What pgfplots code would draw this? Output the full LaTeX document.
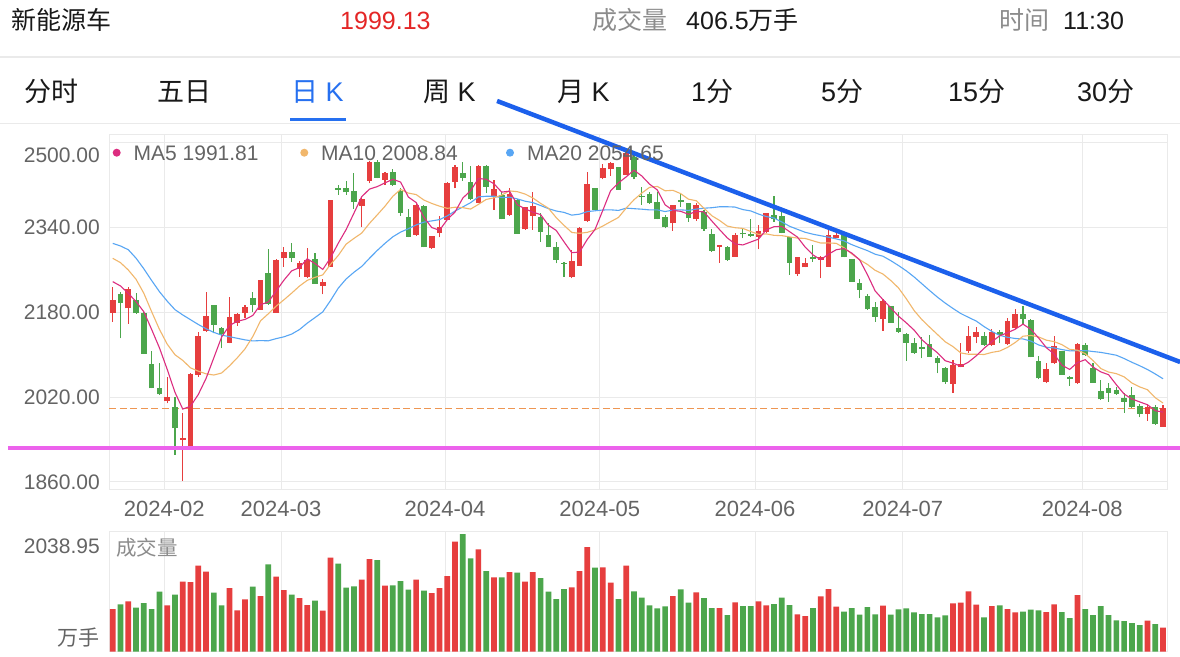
\documentclass[border=0pt]{standalone}
\usepackage{pgfplots}
\usepackage{pgfplotstable}
\usepackage{fontspec}
\pgfplotsset{compat=1.18}
\setmainfont{Liberation Sans}
\newfontfamily\cjk{Noto Sans CJK SC}
\definecolor{redc}{RGB}{230,62,62}
\definecolor{greenc}{RGB}{76,166,76}
\definecolor{ma5c}{RGB}{220,45,128}
\definecolor{ma10c}{RGB}{241,183,108}
\definecolor{ma20c}{RGB}{88,166,244}
\definecolor{trendc}{RGB}{28,96,236}
\definecolor{magc}{RGB}{236,98,236}
\definecolor{dashc}{RGB}{238,150,82}
\definecolor{gridc}{RGB}{234,234,234}
\definecolor{labc}{RGB}{100,100,100}
\definecolor{tabblue}{RGB}{38,112,240}
\definecolor{hdrred}{RGB}{228,38,38}
\definecolor{hdrgray}{RGB}{140,140,140}
\definecolor{hdrblack}{RGB}{25,25,25}

% i open high low close volume  (red: close > open)
\pgfplotstableread{
i O H L C V
0 2179.3 2228.4 2162.4 2203.2 720.6
2 2187.5 2228.4 2158.0 2224.0 850.1
7 2013.4 2058.7 2008.4 2021.0 782.6
9 1939.9 1990.8 1862.5 1943.6 1182.3
10 1926.7 2064.9 1924.0 2063.0 1176.7
11 2061.8 2142.3 2058.7 2136.0 1452.5
12 2144.8 2219.0 2143.5 2173.1 1351.2
15 2122.8 2209.5 2121.5 2170.5 1075.3
16 2159.2 2179.3 2154.8 2176.2 698.1
17 2179.3 2193.8 2168.7 2190.6 883.9
19 2184.4 2241.0 2184.4 2241.0 940.2
21 2179.3 2280.0 2179.3 2278.7 1266.8
22 2281.8 2302.5 2266.1 2293.1 1041.6
24 2261.1 2276.8 2247.2 2272.4 906.4
25 2247.2 2301.9 2244.1 2278.7 788.2
27 2230.3 2242.2 2213.9 2237.8 692.5
28 2266.1 2391.8 2266.1 2391.8 1587.7
32 2381.1 2398.1 2341.5 2393.1 1216.1
33 2428.3 2465.3 2423.2 2464.1 1565.1
35 2429.5 2445.2 2420.1 2442.1 1114.7
39 2325.8 2384.3 2323.9 2382.4 1216.1
41 2300.6 2323.9 2299.4 2323.9 990.9
42 2328.9 2361.6 2321.4 2341.5 1075.3
43 2354.1 2426.4 2354.1 2423.2 1278.0
44 2426.4 2457.8 2413.8 2454.7 1857.9
47 2386.8 2457.8 2385.5 2455.9 1728.4
49 2399.3 2429.5 2373.0 2411.9 1255.5
51 2363.5 2413.8 2361.6 2402.5 1345.6
53 2336.5 2379.2 2335.2 2378.0 1182.3
54 2361.6 2407.5 2335.2 2380.5 1345.6
59 2247.2 2297.5 2244.1 2277.4 1086.6
60 2267.3 2340.3 2267.3 2338.4 1362.5
61 2352.8 2445.2 2350.9 2422.0 1767.8
63 2432.7 2459.7 2430.8 2451.5 1424.4
64 2449.6 2464.1 2437.1 2462.2 1165.4
66 2438.9 2489.2 2438.9 2479.8 1452.5
72 2347.8 2382.4 2333.3 2382.4 940.2
75 2355.3 2385.5 2352.8 2382.4 1002.1
78 2303.8 2307.0 2273.6 2307.0 737.5
80 2284.9 2328.9 2284.9 2325.8 833.2
83 2322.7 2344.7 2298.8 2334.0 850.1
84 2332.1 2367.9 2328.9 2366.7 782.6
88 2252.3 2284.9 2248.5 2283.7 630.6
89 2264.8 2281.8 2264.8 2272.4 602.4
91 2278.7 2286.2 2244.1 2284.9 934.6
92 2266.1 2336.5 2266.1 2325.8 1058.4
93 2320.8 2330.2 2319.5 2325.8 760.1
99 2166.8 2204.5 2145.4 2202.0 776.9
108 2044.8 2090.1 2028.5 2080.7 816.4
109 2076.3 2122.8 2076.3 2082.5 827.6
110 2107.7 2154.2 2103.9 2135.3 1019.0
111 2134.1 2152.9 2121.5 2143.5 793.8
113 2118.4 2147.9 2116.5 2143.5 771.3
115 2120.3 2168.7 2118.4 2164.3 720.6
116 2149.8 2185.6 2147.9 2176.8 664.3
120 2049.2 2085.1 2046.1 2072.5 670.0
121 2083.8 2135.3 2082.5 2116.5 799.5
124 2046.1 2121.5 2044.8 2120.3 957.1
133 1988.3 2005.2 1975.7 2002.1 523.6
135 1964.4 2005.2 1964.4 1999.13 406.5
}\redtab

% green: close < open
\pgfplotstableread{
i O H L C V
1 2213.9 2217.7 2131.0 2198.2 799.5
3 2203.2 2215.8 2176.8 2178.1 743.2
4 2178.1 2181.2 2101.4 2101.4 822.0
5 2081.9 2107.0 2036.6 2036.6 720.6
6 2037.9 2083.8 2024.1 2025.3 1013.4
8 2002.1 2021.0 1910.9 1961.2 962.7
13 2193.8 2193.8 2140.4 2156.1 996.5
14 2149.8 2152.9 2112.1 2139.1 782.6
18 2206.4 2219.0 2181.2 2193.8 1097.9
20 2253.5 2298.8 2193.8 2195.7 1475.1
23 2293.1 2311.3 2275.5 2281.8 962.7
26 2279.9 2291.2 2233.4 2233.4 861.4
29 2413.8 2420.1 2401.2 2410.7 1486.3
30 2413.8 2428.3 2401.2 2406.3 1081.0
31 2409.4 2442.1 2374.8 2387.4 1103.5
34 2464.1 2467.2 2432.6 2433.9 1548.3
36 2445.2 2449.6 2418.2 2420.1 1120.4
37 2408.8 2413.8 2361.6 2367.9 1193.6
38 2359.1 2374.2 2321.4 2322.7 1047.2
40 2381.1 2382.4 2302.5 2302.5 1030.3
45 2442.1 2464.1 2428.3 2433.9 1987.4
46 2426.4 2455.9 2391.8 2393.1 1576.4
48 2455.9 2457.8 2404.4 2417.0 1362.5
50 2401.2 2407.5 2355.3 2355.3 1255.5
52 2391.8 2393.1 2327.7 2327.7 1334.3
55 2359.1 2366.7 2313.2 2332.1 1244.2
56 2325.8 2347.8 2302.5 2302.5 1013.4
57 2302.5 2313.2 2272.4 2278.7 889.5
58 2273.6 2275.5 2247.2 2271.1 1058.4
62 2413.8 2413.8 2373.0 2373.0 1418.8
65 2454.7 2454.7 2410.7 2410.7 889.5
67 2473.5 2476.7 2430.8 2435.8 1019.0
68 2399.3 2415.7 2382.4 2396.8 912.1
69 2402.5 2407.5 2384.3 2385.5 782.6
70 2388.7 2407.5 2355.3 2355.3 731.9
71 2360.4 2363.5 2338.4 2340.3 765.7
73 2391.8 2405.6 2379.2 2388.7 1052.8
74 2385.5 2386.8 2350.9 2357.2 827.6
76 2369.8 2373.0 2334.0 2336.5 906.4
77 2327.7 2336.5 2294.4 2296.2 737.5
79 2302.5 2305.1 2277.4 2278.7 619.3
81 2330.2 2336.5 2319.5 2327.1 771.3
82 2327.7 2355.3 2322.7 2323.9 771.3
85 2363.5 2399.3 2350.9 2355.3 805.1
86 2361.6 2369.8 2328.9 2330.2 912.1
87 2321.4 2321.4 2250.4 2273.6 788.2
90 2283.7 2307.0 2275.5 2281.2 737.5
94 2327.7 2328.9 2283.7 2283.7 675.6
95 2279.9 2279.9 2237.8 2237.8 737.5
96 2235.9 2242.2 2206.4 2222.1 624.9
97 2210.8 2214.5 2184.4 2185.6 754.4
98 2189.4 2200.1 2162.4 2171.8 630.6
100 2191.9 2191.9 2160.5 2160.5 624.9
101 2149.8 2181.2 2141.6 2143.5 715.0
102 2139.1 2141.6 2088.8 2122.8 731.9
103 2122.8 2131.0 2101.4 2103.9 664.3
104 2114.0 2134.1 2093.2 2111.5 636.2
105 2120.3 2137.2 2096.4 2096.4 636.2
106 2093.2 2097.6 2064.9 2083.8 579.9
107 2075.6 2076.3 2044.8 2048.0 613.7
112 2135.3 2143.5 2116.5 2118.4 579.9
114 2143.5 2146.7 2121.5 2137.2 782.6
117 2176.8 2191.9 2156.1 2166.8 675.6
118 2165.5 2166.8 2095.1 2095.1 709.4
119 2088.8 2097.6 2053.6 2055.5 698.1
122 2107.7 2107.7 2061.8 2061.8 670.0
123 2057.4 2059.9 2041.0 2054.9 568.6
125 2118.4 2122.8 2097.6 2099.5 720.6
126 2074.4 2083.8 2047.3 2047.3 619.3
127 2032.3 2052.4 2014.7 2015.9 771.3
128 2036.6 2047.3 2011.5 2028.5 619.3
129 2033.5 2039.8 2024.1 2026.0 529.2
130 2017.8 2027.2 1990.8 2011.5 518.0
131 2024.1 2039.8 1998.9 2000.8 484.2
132 2003.3 2007.1 1982.0 1988.3 450.4
134 2000.8 2005.2 1968.1 1969.4 467.3
}\greentab

% moving averages MA5 MA10 MA20
\pgfplotstableread{
i m5 m10 m20
0 2237.8 2281.8 2310.0
1 2229.6 2273.6 2305.0
2 2215.8 2259.8 2298.0
3 2200.1 2242.2 2282.0
4 2181.0 2215.8 2262.0
5 2147.7 2181.2 2240.0
6 2113.1 2148.0 2219.0
7 2072.5 2120.0 2201.0
8 2029.1 2100.0 2185.0
9 1997.5 2089.3 2175.0
10 2002.8 2075.2 2166.0
11 2025.0 2069.0 2157.0
12 2055.4 2063.9 2149.0
13 2094.4 2061.7 2142.0
14 2133.5 2065.5 2137.0
15 2155.0 2078.9 2134.0
16 2163.0 2094.0 2131.0
17 2166.5 2110.9 2128.0
18 2174.0 2134.2 2126.0
19 2194.4 2163.9 2126.6
20 2199.5 2177.2 2126.2
21 2220.0 2191.5 2130.3
22 2240.5 2203.5 2133.7
23 2258.1 2216.1 2138.9
24 2264.3 2229.4 2147.4
25 2280.9 2240.2 2159.5
26 2271.9 2245.9 2170.0
27 2260.8 2250.6 2180.8
28 2282.8 2270.4 2202.3
29 2310.5 2287.4 2225.7
30 2336.0 2308.5 2242.8
31 2366.8 2319.3 2255.4
32 2397.9 2329.3 2266.4
33 2412.3 2347.6 2281.8
34 2417.0 2363.7 2296.6
35 2424.1 2380.1 2310.1
36 2430.7 2398.7 2322.3
37 2425.6 2411.7 2331.2
38 2397.3 2404.8 2337.6
39 2387.0 2402.0 2344.7
40 2359.1 2391.6 2350.0
41 2339.9 2385.3 2352.3
42 2334.6 2380.1 2354.7
43 2354.7 2376.0 2361.8
44 2369.2 2378.1 2370.9
45 2395.4 2377.3 2378.7
46 2409.3 2374.6 2386.7
47 2432.2 2383.4 2397.6
48 2430.9 2392.8 2398.8
49 2422.4 2395.8 2398.9
50 2406.6 2401.0 2396.3
51 2408.5 2408.9 2397.1
52 2382.9 2407.5 2393.8
53 2375.1 2403.0 2389.5
54 2368.8 2395.6 2386.8
55 2364.2 2385.4 2381.3
56 2344.2 2376.3 2375.5
57 2334.4 2358.6 2371.0
58 2313.0 2344.0 2368.4
59 2292.4 2330.6 2363.2
60 2293.6 2328.9 2365.0
61 2317.5 2330.8 2369.9
62 2336.4 2335.4 2371.4
63 2372.5 2342.7 2372.9
64 2409.4 2350.9 2373.2
65 2423.9 2358.8 2372.1
66 2435.4 2376.5 2376.4
67 2448.0 2392.2 2375.4
68 2437.1 2404.8 2374.4
69 2421.7 2415.6 2373.1
70 2410.6 2417.3 2373.1
71 2382.7 2409.1 2370.0
72 2372.1 2410.0 2372.7
73 2370.4 2403.8 2373.2
74 2364.8 2393.3 2372.1
75 2370.2 2390.4 2374.6
76 2369.4 2376.1 2376.3
77 2352.2 2362.1 2377.2
78 2335.9 2353.2 2379.0
79 2320.2 2342.5 2379.0
80 2308.8 2339.5 2378.4
81 2307.0 2338.2 2373.6
82 2312.5 2332.4 2371.2
83 2317.9 2326.9 2365.3
84 2335.5 2327.8 2360.5
85 2341.4 2325.1 2357.8
86 2342.0 2324.5 2350.3
87 2332.0 2322.2 2342.2
88 2321.9 2319.9 2336.5
89 2303.0 2319.3 2330.9
90 2288.2 2314.8 2327.2
91 2279.2 2310.6 2324.4
92 2289.6 2310.8 2321.6
93 2298.0 2310.0 2318.4
94 2300.3 2301.7 2314.7
95 2291.6 2289.9 2307.5
96 2279.0 2279.1 2301.8
97 2251.0 2270.3 2296.3
98 2220.2 2259.1 2289.5
99 2203.9 2252.1 2285.7
100 2188.4 2240.0 2277.4
101 2172.7 2225.9 2268.2
102 2160.1 2205.6 2258.2
103 2146.5 2183.4 2246.7
104 2128.4 2166.2 2233.9
105 2115.6 2152.0 2221.0
106 2103.7 2138.2 2208.6
107 2088.7 2124.4 2197.4
108 2084.1 2115.3 2187.2
109 2078.3 2103.4 2177.7
110 2086.1 2100.8 2170.4
111 2098.0 2100.8 2163.4
112 2112.1 2100.4 2153.0
113 2124.6 2104.4 2143.9
114 2135.6 2106.9 2136.5
115 2141.4 2113.7 2132.9
116 2148.0 2123.0 2130.6
117 2157.7 2134.9 2129.7
118 2148.0 2136.3 2125.8
119 2131.7 2133.6 2118.5
120 2113.3 2127.4 2114.1
121 2101.3 2124.7 2112.8
122 2080.3 2119.0 2109.7
123 2072.2 2110.1 2107.3
124 2085.2 2108.5 2107.7
125 2090.6 2102.0 2107.8
126 2076.8 2089.0 2106.0
127 2067.6 2073.9 2104.4
128 2062.3 2067.3 2101.8
129 2043.4 2064.3 2099.0
130 2025.8 2058.2 2092.8
131 2016.5 2046.7 2085.7
132 2011.0 2039.3 2079.2
133 2005.7 2034.0 2072.1
134 1994.4 2018.9 2063.7
135 1991.81 2008.84 2054.65
}\matab

\begin{document}
\begin{tikzpicture}
\fill[white] (0pt,0pt) rectangle (1180pt,656pt);
\path[use as bounding box] (0pt,0pt) rectangle (1180pt,656pt);

% header row
\begin{scope}[every node/.style={anchor=base west, inner sep=0pt}]
\node[font=\cjk\fontsize{25}{25}\selectfont, text=hdrblack] at (11pt,626pt) {新能源车};
\node[font=\fontsize{25}{25}\selectfont, text=hdrred] at (340pt,626pt) {1999.13};
\node[font=\cjk\fontsize{25}{25}\selectfont, text=hdrgray] at (592pt,626pt) {成交量};
\node[font=\fontsize{25}{25}\selectfont, text=hdrblack] at (686pt,626pt) {406.5{\cjk 万手}};
\node[font=\cjk\fontsize{25}{25}\selectfont, text=hdrgray] at (999pt,626pt) {时间};
\node[font=\fontsize{25}{25}\selectfont, text=hdrblack] at (1063pt,626pt) {11:30};
% tabs
\node[font=\cjk\fontsize{27}{27}\selectfont, text=hdrblack] at (24pt,554pt) {分时};
\node[font=\cjk\fontsize{27}{27}\selectfont, text=hdrblack] at (157pt,554pt) {五日};
\node[font=\fontsize{27}{27}\selectfont, text=tabblue] at (291pt,554pt) {{\cjk 日} K};
\node[font=\fontsize{27}{27}\selectfont, text=hdrblack] at (423pt,554pt) {{\cjk 周} K};
\node[font=\fontsize{27}{27}\selectfont, text=hdrblack] at (557pt,554pt) {{\cjk 月} K};
\node[font=\fontsize{27}{27}\selectfont, text=hdrblack] at (691pt,554pt) {1{\cjk 分}};
\node[font=\fontsize{27}{27}\selectfont, text=hdrblack] at (821pt,554pt) {5{\cjk 分}};
\node[font=\fontsize{27}{27}\selectfont, text=hdrblack] at (948pt,554pt) {15{\cjk 分}};
\node[font=\fontsize{27}{27}\selectfont, text=hdrblack] at (1077pt,554pt) {30{\cjk 分}};
\end{scope}
\fill[tabblue] (290pt,534.5pt) rectangle (346pt,537.5pt);
\fill[gridc] (0pt,598pt) rectangle (1180pt,600pt);
\fill[gridc] (0pt,531.5pt) rectangle (1180pt,532.5pt);

% main price axis
\begin{axis}[
  at={(109.3pt,166.7pt)}, anchor=south west, scale only axis,
  width=1058pt, height=355.3pt,
  xmin=-0.44, xmax=135.55, ymin=1846.2, ymax=2516.2,
  clip=false,
  axis line style={draw=gridc, line width=1pt},
  xtick={6.63,21.63,42.71,62.6,82.56,101.54,124.63},
  xticklabels={2024-02,2024-03,2024-04,2024-05,2024-06,2024-07,2024-08},
  ytick={1860,2020,2180,2340,2500},
  yticklabels={1860.00,2020.00,2180.00,2340.00,{\raisebox{-12.5pt}{2500.00}}},
  grid=major, grid style={draw=gridc, line width=1pt},
  major tick length=0pt,
  tick label style={text=labc, inner sep=0pt},
  xticklabel style={font=\fontsize{22}{22}\selectfont, anchor=base, yshift=-27pt},
  yticklabel style={font=\fontsize{21}{21}\selectfont, anchor=base east, xshift=-9.3pt, yshift=-7.5pt},
]
\addplot[dashc, line width=1.4pt, dash pattern=on 7pt off 3.5pt] coordinates {(-0.44,1999.13) (135.55,1999.13)};
% wicks
\addplot[draw=none, mark=none, error bars/.cd, y dir=plus, y explicit, error mark=none,
  error bar style={line width=1.1pt, draw=redc}]
  table[x=i, y=L, y error expr=\thisrow{H}-\thisrow{L}] {\redtab};
\addplot[draw=none, mark=none, error bars/.cd, y dir=plus, y explicit, error mark=none,
  error bar style={line width=1.1pt, draw=greenc}]
  table[x=i, y=L, y error expr=\thisrow{H}-\thisrow{L}] {\greentab};
% bodies
\addplot[draw=none, mark=none, error bars/.cd, y dir=plus, y explicit, error mark=none,
  error bar style={line width=5.7pt, draw=redc}]
  table[x=i, y=O, y error expr=\thisrow{C}-\thisrow{O}] {\redtab};
\addplot[draw=none, mark=none, error bars/.cd, y dir=plus, y explicit, error mark=none,
  error bar style={line width=5.7pt, draw=greenc}]
  table[x=i, y=C, y error expr=\thisrow{O}-\thisrow{C}] {\greentab};
% moving averages
\addplot[ma20c, line width=1.1pt] table[x=i, y=m20] {\matab};
\addplot[ma10c, line width=1.1pt] table[x=i, y=m10] {\matab};
\addplot[ma5c, line width=1.1pt] table[x=i, y=m5] {\matab};
% support and trend lines
\addplot[magc, line width=4pt] coordinates {(-13.46,1924.1) (137.2,1924.1)};
\addplot[trendc, line width=4.5pt] coordinates {(49.4,2578.5) (137.2,2086.3)};
\end{axis}

% legend
\begin{scope}[every node/.style={anchor=base west, inner sep=0pt, font=\fontsize{21}{21}\selectfont, text=labc}]
\fill[ma5c] (116.7pt,503.3pt) circle (4pt);
\node at (133.5pt,495.5pt) {MA5 1991.81};
\fill[ma10c] (304.3pt,503.3pt) circle (4pt);
\node at (321pt,495.5pt) {MA10 2008.84};
\fill[ma20c] (510pt,503.3pt) circle (4pt);
\node at (527pt,495.5pt) {MA20 2054.65};
\end{scope}

% volume axis
\begin{axis}[
  at={(109.3pt,4.3pt)}, anchor=south west, scale only axis,
  width=1058pt, height=120.7pt,
  xmin=-0.44, xmax=135.55, ymin=0, ymax=2038.95,
  axis line style={draw=gridc, line width=1pt},
  xtick={6.63,21.63,42.71,62.6,82.56,101.54,124.63},
  xticklabels={},
  xmajorgrids, grid style={draw=gridc, line width=1pt},
  ytick={0,2038.95},
  yticklabels={{\raisebox{13.7pt}{\cjk 万手}},{\raisebox{-15pt}{2038.95}}},
  major tick length=0pt,
  tick label style={text=labc, inner sep=0pt},
  yticklabel style={font=\fontsize{21}{21}\selectfont, anchor=base east, xshift=-9.3pt, yshift=-7.5pt},
]
\addplot[ybar, bar width=5.7pt, bar shift=0pt, fill=redc, draw=none] table[x=i, y=V] {\redtab};
\addplot[ybar, bar width=5.7pt, bar shift=0pt, fill=greenc, draw=none] table[x=i, y=V] {\greentab};
\end{axis}
\node[anchor=base west, inner sep=0pt, font=\cjk\fontsize{20.5}{20.5}\selectfont, text=hdrgray] at (116pt,100.2pt) {成交量};
\end{tikzpicture}
\end{document}
